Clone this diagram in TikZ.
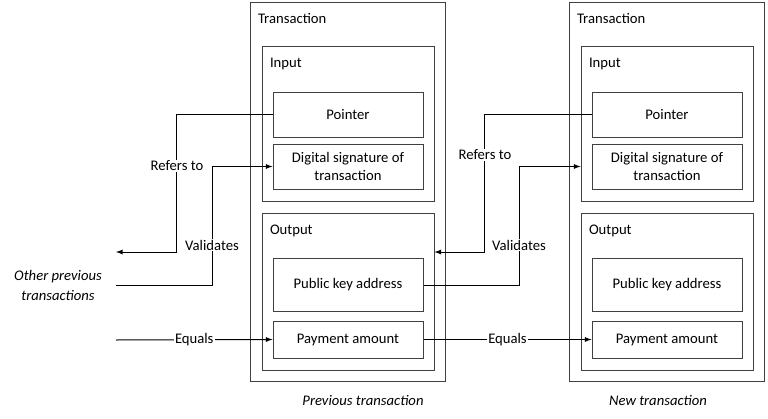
\documentclass[tikz,border=0pt]{standalone}
\usepackage{fontspec}
\setmainfont{Carlito}
\usepackage{tikz}
\usetikzlibrary{arrows,arrows.meta}
\tikzset{>=latex}
\usepackage{xcolor}
\colorlet{boxcol}{black!75}
\tikzstyle{txbox}=[draw=boxcol,line width=0.75pt,inner sep=0pt]
\tikzstyle{field}=[txbox,minimum width=112.5pt,align=center]
\tikzstyle{title}=[anchor=base west,inner sep=0pt]
\tikzstyle{tag}=[fill=white,inner sep=1pt]

\begin{document}
\begin{tikzpicture}[x=0.75pt,y=-0.75pt,line width=0.75pt,font=\fontsize{11}{13}\selectfont]
    \useasboundingbox (0,0) rectangle (768,418);

    % previous transaction
    \node[txbox,minimum width=146.25pt,minimum height=284.25pt] (tx1) at (347.5,191.5) {};
    \node[txbox,minimum width=129pt,minimum height=116.25pt] (in1) at (348,123.5) {};
    \node[txbox,minimum width=129pt,minimum height=117.75pt] (out1) at (348,291.5) {};
    \node[field,minimum height=33.75pt] (ptr1) at (348,114.5) {Pointer};
    \node[field,minimum height=33.75pt] (sig1) at (348,166.5) {Digital signature of\\transaction};
    \node[field,minimum height=39.75pt] (pk1) at (348,285) {Public key address};
    \node[field,minimum height=27.75pt] (pay1) at (348,339.5) {Payment amount};
    \node[title] (tx1-t) at ([shift={(8,22)}]tx1.north west) {Transaction};
    \node[title] (in1-t) at ([shift={(8,22)}]in1.north west) {Input};
    \node[title] (out1-t) at ([shift={(8,22)}]out1.north west) {Output};

    % new transaction
    \node[txbox,minimum width=146.25pt,minimum height=284.25pt] (tx2) at (666.5,191.5) {};
    \node[txbox,minimum width=129pt,minimum height=116.25pt] (in2) at (667,123.5) {};
    \node[txbox,minimum width=129pt,minimum height=117.75pt] (out2) at (667,291.5) {};
    \node[field,minimum height=33.75pt] (ptr2) at (667,114.5) {Pointer};
    \node[field,minimum height=33.75pt] (sig2) at (667,166.5) {Digital signature of\\transaction};
    \node[field,minimum height=39.75pt] (pk2) at (667,285) {Public key address};
    \node[field,minimum height=27.75pt] (pay2) at (667,339.5) {Payment amount};
    \node[title] (tx2-t) at ([shift={(8,22)}]tx2.north west) {Transaction};
    \node[title] (in2-t) at ([shift={(8,22)}]in2.north west) {Input};
    \node[title] (out2-t) at ([shift={(8,22)}]out2.north west) {Output};

    \node[align=center,font=\fontsize{11}{15}\selectfont\itshape] (other) at (58,285) {Other previous\\transactions};
    \node[font=\fontsize{11}{13}\selectfont\itshape] (prev-cap) at (363,400) {Previous transaction};
    \node[font=\fontsize{11}{13}\selectfont\itshape] (new-cap) at (658,400) {New transaction};

    \coordinate (oth-in) at (116,252);
    \coordinate (oth-out) at (116,285);
    \coordinate (eq-in) at (116,340);

    % links to other previous transactions
    \draw[->] (ptr1.west) -- ++(-96,0) |- (oth-in);
    \draw[->] (oth-out) -- ++(96,0) |- (sig1.west);
    \draw[->] (eq-in) -- node[tag] (eq1) {Equals} (pay1.west);
    \node[tag] (ref1) at (177,166) {Refers to};
    \node[tag] (val1) at (212,245) {Validates};

    % links between the two
    \draw[->] (ptr2.west) -- ++(-107,0) |- ([yshift=29.6pt]out1.east);
    \draw[->] (pk1.east) -- ++(96,0) |- (in2.west |- sig2.west);
    \draw[->] (pay1.east) -- node[tag] (eq2) {Equals} (pay2.west);
    \node[tag] (ref2) at (485,155) {Refers to};
    \node[tag] (val2) at (519,245) {Validates};

\end{tikzpicture}
\end{document}
